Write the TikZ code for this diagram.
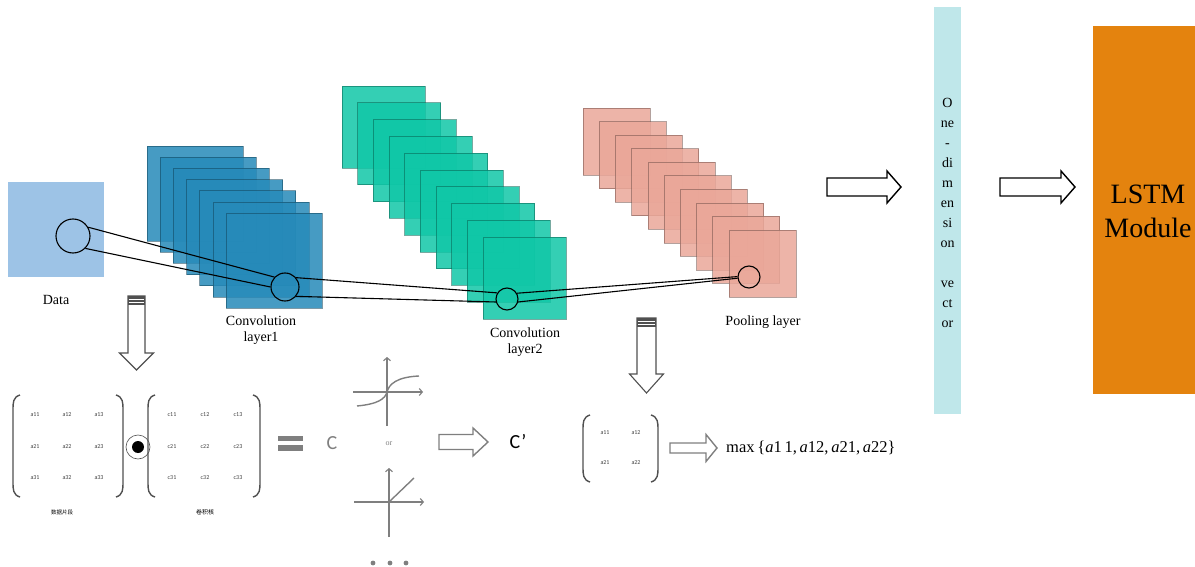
\documentclass[tikz,border=0pt]{standalone}
\usepackage{fontspec}
\setmainfont{Liberation Serif}
\newfontfamily\cjk{Noto Sans CJK SC}
\newfontfamily\calib{Carlito}
\usetikzlibrary{arrows.meta}
\definecolor{dataC}{HTML}{9DC3E6}
\definecolor{convaC}{HTML}{268AB9}
\definecolor{convbC}{HTML}{10C7A7}
\definecolor{poolC}{HTML}{EAA799}
\definecolor{vecC}{HTML}{BFE7EA}
\definecolor{lstmC}{HTML}{E4830E}
\definecolor{grayC}{HTML}{7F7F7F}
\definecolor{darkG}{HTML}{505050}
\tikzset{
  sqbase/.style={fill opacity=0.85, draw opacity=0.55, line width=0.6pt},
  convasq/.style={sqbase, fill=convaC, draw=convaC!50!black},
  convbsq/.style={sqbase, fill=convbC, draw=convbC!50!black},
  poolsq/.style={sqbase, fill=poolC, draw=poolC!50!black},
  circ/.style={circle, draw=black, line width=1.1pt, inner sep=0pt},
  link/.style={draw=black, line width=1.1pt},
  lbl/.style={font=\fontsize{14}{16.5}\selectfont, align=center, inner sep=0pt},
  grayblk/.style={draw=grayC, line width=1.4pt, fill=white, line join=miter},
  blackblk/.style={draw=black, line width=1.4pt, fill=white, line join=miter},
  downblk/.style={draw=darkG, line width=1.1pt, fill=white, line join=miter},
  paren/.style={draw=darkG, line width=1.4pt},
  entry/.style={font=\calib\fontsize{6}{6}\selectfont, text=black!75, inner sep=0pt},
  axis/.style={draw=grayC, line width=1.1pt, -{Straight Barb[length=3pt,width=7pt]}},
  curve/.style={draw=grayC, line width=1.4pt}
}
\newcommand{\harr}[7]{\draw[#1] (#2,{#5-#6}) -- (#3,{#5-#6}) -- (#3,{#5-#7}) -- (#4,#5) -- (#3,{#5+#7}) -- (#3,{#5+#6}) -- (#2,{#5+#6}) -- cycle;}
\newcommand{\varr}[7]{\draw[#1] ({#2-#6},#3) -- ({#2-#6},#4) -- ({#2-#7},#4) -- (#2,#5) -- ({#2+#7},#4) -- ({#2+#6},#4) -- ({#2+#6},#3) -- cycle;
  \fill[darkG] ({#2-#6},#3) rectangle ({#2+#6},{#3+9});
  \draw[white, line width=0.9pt] ({#2-#6+0.6},{#3+3}) -- ({#2+#6-0.6},{#3+3});
  \draw[white, line width=0.9pt] ({#2-#6+0.6},{#3+6}) -- ({#2+#6-0.6},{#3+6});}
\newcommand{\lparen}[3]{\draw[paren] ({#1+7},#2) .. controls (#1,{#2+2}) and (#1,{#2+8}) .. (#1,{#2+14}) -- (#1,{#3-14}) .. controls (#1,{#3-8}) and (#1,{#3-2}) .. ({#1+7},#3);}
\newcommand{\rparen}[3]{\draw[paren] ({#1-7},#2) .. controls (#1,{#2+2}) and (#1,{#2+8}) .. (#1,{#2+14}) -- (#1,{#3-14}) .. controls (#1,{#3-8}) and (#1,{#3-2}) .. ({#1-7},#3);}
\begin{document}
\begin{tikzpicture}[x=1pt,y=-1pt]
\useasboundingbox (0,0) rectangle (1195,567);

% Data
\fill[dataC] (8,182) rectangle (104,277);
\node[lbl] (datalbl) at (56,300) {Data};

% Convolution layer 1 (7 maps)
\foreach \i in {0,...,6}{
  \path[convasq] ({147+13.17*\i},{146+11.17*\i}) rectangle ++(96,95);
}
% Convolution layer 2 (10 maps)
\foreach \i in {0,...,9}{
  \path[convbsq] ({342+15.67*\i},{86+16.78*\i}) rectangle ++(83,82);
}
% Pooling layer (10 maps)
\foreach \i in {0,...,9}{
  \path[poolsq] ({583+16.22*\i},{108+13.56*\i}) rectangle ++(67,67);
}

% receptive-field circles
\node[circ, minimum size=34pt] (d) at (73,236) {};
\node[circ, minimum size=28pt] (c1) at (285,287) {};
\node[circ, minimum size=22pt] (c2) at (507,299) {};
\node[circ, minimum size=22pt] (p) at (749,277) {};

\draw[link] (d.30) -- (c1.137);
\draw[link] (d.-45) -- (c1.180);
\draw[link] (c1.40) -- (c2.148);
\draw[link] (c1.-40) -- (c2.195);
\draw[link] (c2.30) -- (p.178);
\draw[link] (c2.-15) -- (p.186);

\node[lbl] (c1lbl) at (261,330) {Convolution\\layer1};
\node[lbl] (c2lbl) at (525,342) {Convolution\\layer2};
\node[lbl] (plbl) at (763,322) {Pooling layer};

% arrows to vector and LSTM
\harr{blackblk}{827}{887}{901}{187}{9}{16}
\harr{blackblk}{1000}{1061}{1075}{187}{9}{16}

% one-dimension vector
\fill[vecC] (934,7) rectangle (961,414);
\node[font=\fontsize{14}{20}\selectfont, align=center, inner sep=0pt] (vec) at (947.5,213)
  {O\\ne\\-\\di\\m\\en\\si\\on\\[20pt]ve\\ct\\or};

% LSTM module
\fill[lstmC] (1093,26) rectangle (1195,394);
\node[font=\fontsize{28}{34}\selectfont, align=center, inner sep=0pt] (lstm) at (1148,211) {LSTM\\Module};

% down arrows
\varr{downblk}{136.5}{296}{353}{370}{8.5}{17}
\varr{downblk}{646.5}{318}{374}{393}{9.5}{17}

% matrix 1 (data segment)
\lparen{13}{395}{497}
\rparen{123}{395}{497}
\foreach \r/\y in {1/415,2/447,3/478}{
  \foreach \c/\x in {1/35,2/67,3/99}{
    \node[entry] at (\x,\y) {a\r\c};
  }
}
\node[font=\cjk\fontsize{5.5}{6}\selectfont, inner sep=0pt] (segl) at (62,512) {数据片段};

% odot
\node[circle, draw=darkG, line width=0.6pt, minimum size=24pt, inner sep=0pt] (od) at (138,447) {};
\fill[black] (od.center) circle (6);

% matrix 2 (kernel)
\lparen{148}{395}{497}
\rparen{260}{395}{497}
\foreach \r/\y in {1/415,2/447,3/478}{
  \foreach \c/\x in {1/172,2/205,3/238}{
    \node[entry] at (\x,\y) {c\r\c};
  }
}
\node[font=\cjk\fontsize{6}{6}\selectfont, inner sep=0pt] (kl) at (205,512) {卷积核};

% equals
\fill[grayC] (278,436) rectangle (303,441);
\fill[grayC] (278,445) rectangle (303,451);
\node[font=\calib\fontsize{20}{20}\selectfont, text=grayC, inner sep=0pt] (cc) at (332,443) {C};

% activation functions
\draw[axis] (387,426) -- (387,357);
\draw[axis] (353,392) -- (423,392);
\draw[curve] (357,406) .. controls (378,404) and (385,399) .. (387,392) .. controls (389,384) and (397,377) .. (419,376);
\node[font=\fontsize{8}{8}\selectfont, text=grayC, inner sep=0pt] (orl) at (389,444) {or};
\draw[axis] (389,537) -- (389,468);
\draw[axis] (354,502) -- (424,502);
\draw[curve] (354,502) -- (389,502) -- (414,478);
\foreach \x in {373,390,406}{ \fill[grayC] (\x,563) circle (2.4); }

\harr{grayblk}{439}{473}{488}{442}{7.5}{14}
\node[font=\calib\fontsize{20}{20}\selectfont, inner sep=0pt] (cp) at (518,442) {C’};

% pooling matrix
\lparen{583}{415}{482}
\rparen{658}{415}{482}
\foreach \r/\y in {1/433,2/463}{
  \foreach \c/\x in {1/605,2/636}{
    \node[entry] at (\x,\y) {a\r\c};
  }
}
\harr{grayblk}{670}{706}{717}{448}{5}{13.5}
\node[font=\fontsize{16.5}{17}\selectfont, anchor=west, inner sep=0pt] (mx) at (726,448)
  {max\,\{\textit{a}1\,1,\,\textit{a}12,\,\textit{a}21,\,\textit{a}22\}};
\end{tikzpicture}
\end{document}
